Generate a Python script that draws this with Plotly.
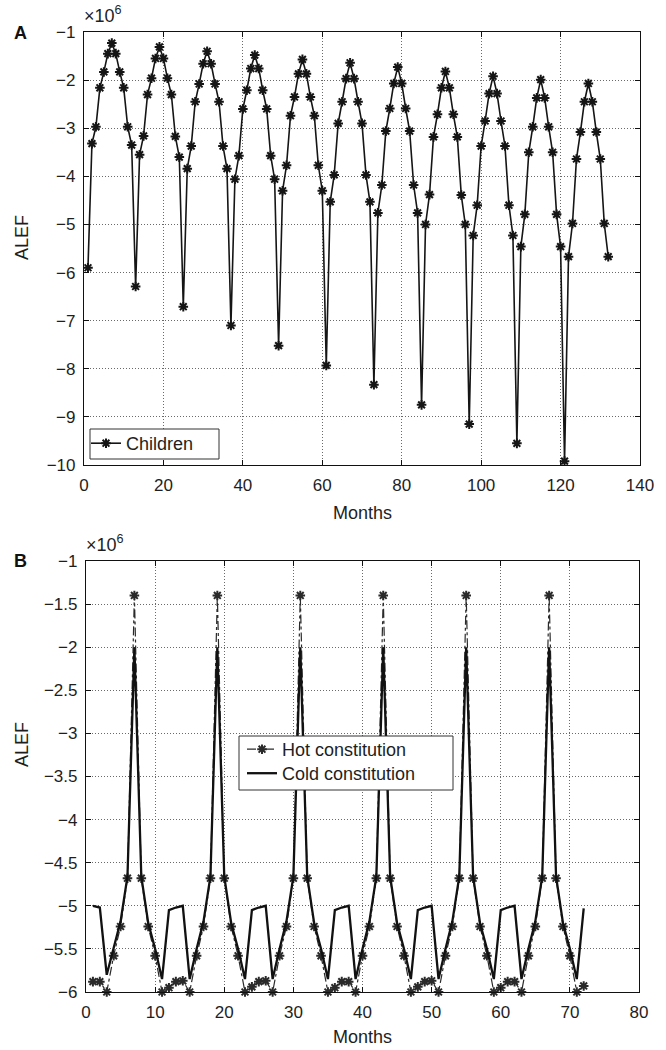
import plotly.graph_objects as go

# ---------------- Data (values in units of 10^6) ----------------
months_a = list(range(1, 133))
children = [
    -5.90,
    -3.32, -2.97, -2.16, -1.83, -1.45, -1.23, -1.45, -1.83, -2.16, -2.97, -3.35,
    -6.29,
    -3.55, -3.16, -2.30, -1.96, -1.55, -1.31, -1.55, -1.96, -2.30, -3.17, -3.60,
    -6.71,
    -3.84, -3.37, -2.45, -2.08, -1.66, -1.40, -1.66, -2.08, -2.45, -3.37, -3.84,
    -7.10,
    -4.06, -3.57, -2.60, -2.21, -1.76, -1.48, -1.76, -2.21, -2.60, -3.57, -4.06,
    -7.52,
    -4.30, -3.77, -2.74, -2.35, -1.87, -1.57, -1.87, -2.35, -2.74, -3.77, -4.30,
    -7.93,
    -4.53, -3.97, -2.90, -2.45, -1.97, -1.64, -1.97, -2.45, -2.90, -3.97, -4.53,
    -8.33,
    -4.76, -4.18, -3.06, -2.59, -2.07, -1.73, -2.07, -2.59, -3.06, -4.18, -4.76,
    -8.75,
    -5.00, -4.38, -3.18, -2.71, -2.16, -1.82, -2.16, -2.71, -3.18, -4.39, -5.00,
    -9.15,
    -5.23, -4.60, -3.37, -2.85, -2.28, -1.92, -2.28, -2.85, -3.37, -4.60, -5.23,
    -9.55,
    -5.46, -4.79, -3.50, -2.97, -2.37, -1.99, -2.37, -2.97, -3.50, -4.79, -5.46,
    -9.92,
    -5.67, -4.98, -3.64, -3.08, -2.45, -2.07, -2.45, -3.08, -3.64, -4.98, -5.67,
]

months_b = list(range(1, 73))
hot = [
    -5.88, -5.88, -6.00, -5.58, -5.24, -4.68, -1.40, -4.68, -5.24, -5.58, -6.00, -5.95,
    -5.88, -5.87, -6.00, -5.58, -5.24, -4.68, -1.40, -4.68, -5.24, -5.58, -6.00, -5.94,
    -5.88, -5.87, -6.00, -5.58, -5.24, -4.68, -1.40, -4.68, -5.24, -5.58, -6.00, -5.95,
    -5.88, -5.88, -6.00, -5.58, -5.24, -4.68, -1.40, -4.68, -5.24, -5.58, -6.00, -5.94,
    -5.88, -5.87, -6.00, -5.58, -5.24, -4.68, -1.40, -4.68, -5.24, -5.58, -6.00, -5.95,
    -5.88, -5.88, -6.00, -5.58, -5.24, -4.68, -1.40, -4.68, -5.24, -5.58, -6.00, -5.93,
]
cold = [
    -5.00, -5.02, -5.80, -5.50, -5.18, -4.66, -2.00, -4.66, -5.20, -5.50, -5.85, -5.05,
    -5.02, -5.00, -5.85, -5.50, -5.18, -4.66, -2.00, -4.66, -5.20, -5.50, -5.85, -5.05,
    -5.02, -5.00, -5.85, -5.50, -5.18, -4.66, -2.00, -4.66, -5.20, -5.50, -5.85, -5.05,
    -5.02, -5.00, -5.85, -5.50, -5.18, -4.66, -2.00, -4.66, -5.20, -5.50, -5.85, -5.05,
    -5.02, -5.00, -5.85, -5.50, -5.18, -4.66, -2.00, -4.66, -5.20, -5.50, -5.85, -5.05,
    -5.02, -5.00, -5.85, -5.50, -5.18, -4.66, -2.00, -4.66, -5.20, -5.50, -5.85, -5.03,
]

xticks_a = [0, 20, 40, 60, 80, 100, 120, 140]
yticks_a = [-1, -2, -3, -4, -5, -6, -7, -8, -9, -10]
yticklabels_a = ["\u22121", "\u22122", "\u22123", "\u22124", "\u22125",
                 "\u22126", "\u22127", "\u22128", "\u22129", "\u221210"]
xticks_b = [0, 10, 20, 30, 40, 50, 60, 70, 80]
yticks_b = [-1, -1.5, -2, -2.5, -3, -3.5, -4, -4.5, -5, -5.5, -6]
yticklabels_b = ["\u22121", "\u22121.5", "\u22122", "\u22122.5", "\u22123", "\u22123.5",
                 "\u22124", "\u22124.5", "\u22125", "\u22125.5", "\u22126"]

W, H = 666, 1050
FONT = "Liberation Sans, Arial, Helvetica, sans-serif"
INK = "#1e1e1e"


def px_x(p):
    return p / W


def px_y(p):
    return 1 - p / H


fig = go.Figure()

fig.add_trace(go.Scatter(
    x=months_a, y=children, name="Children", mode="lines+markers",
    line=dict(color="#151515", width=1.6),
    marker=dict(symbol="asterisk-open", size=8, line=dict(width=2, color="#151515")),
    xaxis="x", yaxis="y", legend="legend", cliponaxis=False,
))
fig.add_trace(go.Scatter(
    x=months_b, y=hot, name="Hot constitution", mode="lines+markers",
    line=dict(color="#2a2a2a", width=1.2, dash="dashdot"),
    marker=dict(symbol="asterisk-open", size=8, line=dict(width=2, color="#1a1a1a")),
    xaxis="x2", yaxis="y2", legend="legend2", cliponaxis=False,
))
fig.add_trace(go.Scatter(
    x=months_b, y=cold, name="Cold constitution", mode="lines",
    line=dict(color="#111111", width=2.3),
    xaxis="x2", yaxis="y2", legend="legend3", cliponaxis=False,
))

axis_common = dict(
    showline=True, linecolor="#111", linewidth=1.2, mirror="ticks",
    ticks="inside", ticklen=5, tickcolor="#111", tickwidth=1,
    showgrid=True, gridcolor="#6a6a6a", gridwidth=1, griddash="1px,2px",
    zeroline=False, automargin=False,
    tickfont=dict(size=17, color=INK, family=FONT),
)

legend_common = dict(
    xanchor="left", yanchor="top", borderwidth=0, bgcolor="rgba(0,0,0,0)",
    font=dict(size=18, family=FONT, color=INK), itemwidth=30, tracegroupgap=0,
)

fig.update_layout(
    width=W, height=H,
    margin=dict(l=0, r=0, t=0, b=0),
    paper_bgcolor="white", plot_bgcolor="white",
    font=dict(family=FONT, color=INK),
    xaxis=dict(domain=[px_x(84), px_x(640)], range=[0, 140], tickvals=xticks_a,
               anchor="y", ticklabelstandoff=4, **axis_common),
    yaxis=dict(domain=[px_y(465), px_y(32)], range=[-10, -1], tickvals=yticks_a,
               ticktext=yticklabels_a, anchor="x", ticklabelstandoff=4, **axis_common),
    xaxis2=dict(domain=[px_x(86), px_x(639)], range=[0, 80], tickvals=xticks_b,
                anchor="y2", ticklabelstandoff=4, **axis_common),
    yaxis2=dict(domain=[px_y(992), px_y(561)], range=[-6, -1], tickvals=yticks_b,
                ticktext=yticklabels_b, anchor="x2", ticklabelstandoff=4, **axis_common),
    legend=dict(x=px_x(86), y=px_y(425), **legend_common),
    legend2=dict(x=px_x(242), y=px_y(731), **legend_common),
    legend3=dict(x=px_x(242), y=px_y(755), **legend_common),
    showlegend=True,
    hovermode=False,
)

# legend frames (opaque white boxes like the original)
frames = [(90, 429, 219, 459), (239, 736, 453, 790)]
fig.update_layout(shapes=[
    dict(type="rect", xref="paper", yref="paper",
         x0=px_x(x0), x1=px_x(x1), y0=px_y(y1), y1=px_y(y0),
         line=dict(color="#333", width=1), fillcolor="white", layer="above")
    for (x0, y0, x1, y1) in frames
])

annotations = [
    dict(text="<b>A</b>", x=px_x(20), y=px_y(33), xanchor="center", yanchor="middle",
         font=dict(size=18, family=FONT, color="#111")),
    dict(text="<b>B</b>", x=px_x(20), y=px_y(561), xanchor="center", yanchor="middle",
         font=dict(size=18, family=FONT, color="#111")),
    dict(text="\u00d710<sup>6</sup>", x=px_x(82), y=px_y(28), xanchor="left", yanchor="bottom",
         font=dict(size=18, family=FONT, color=INK)),
    dict(text="\u00d710<sup>6</sup>", x=px_x(84), y=px_y(557), xanchor="left", yanchor="bottom",
         font=dict(size=18, family=FONT, color=INK)),
    dict(text="Months", x=px_x(362), y=px_y(513), xanchor="center", yanchor="middle",
         font=dict(size=18, family=FONT, color=INK)),
    dict(text="Months", x=px_x(362), y=px_y(1037), xanchor="center", yanchor="middle",
         font=dict(size=18, family=FONT, color=INK)),
    dict(text="ALEF", x=px_x(22), y=px_y(238), xanchor="center", yanchor="middle",
         textangle=-90, font=dict(size=18, family=FONT, color=INK)),
    dict(text="ALEF", x=px_x(22), y=px_y(745), xanchor="center", yanchor="middle",
         textangle=-90, font=dict(size=18, family=FONT, color=INK)),
]
for a in annotations:
    a.update(xref="paper", yref="paper", showarrow=False)
fig.update_layout(annotations=annotations)

fig.write_html("out.html", config={"displayModeBar": False},
               post_script="document.body.style.margin='0';")
